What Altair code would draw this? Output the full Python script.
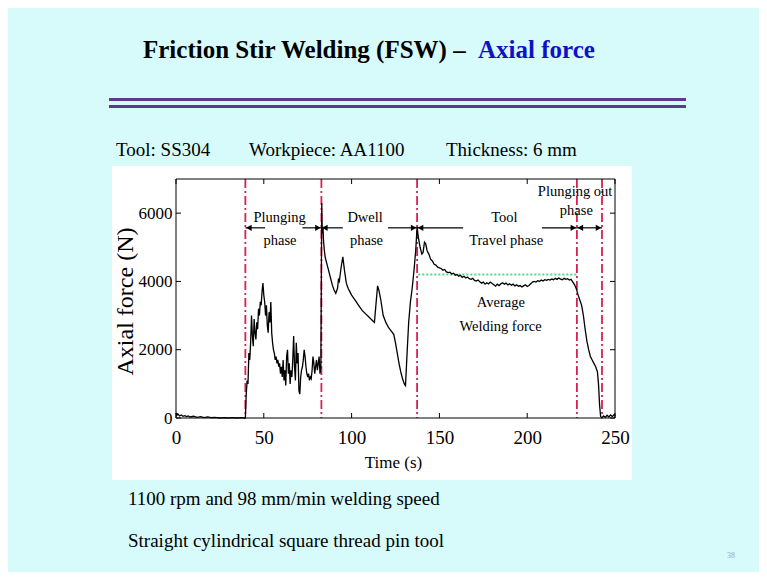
import altair as alt
import pandas as pd

# ---------------- data ----------------
pre_plunge = [(0, 150), (0.5, 80), (1, 120), (2, 60), (3, 90), (4, 50), (5, 70), (6, 40),
              (7, 60), (8, 30), (10, 50), (12, 20), (14, 40), (16, 10), (18, 30), (20, 10),
              (22, 20), (25, 0), (28, 10), (30, 0), (32, 10), (35, 0), (37, 10), (39, 0)]

plunging = [(39.5, 0), (40, 700), (40.5, 1100), (41, 1000), (41.5, 1900), (42, 1700), (42.5, 2200),
            (43, 3000), (43.5, 2400), (44, 2100), (44.5, 2900), (45, 2500), (45.5, 2300), (46, 2800),
            (46.5, 2600), (47, 3200), (47.5, 3000), (48, 3400), (48.5, 3300), (49, 3700), (49.5, 3950),
            (50, 3600), (50.5, 3400), (51, 3000), (51.5, 3300), (52, 2700), (52.5, 2500), (53, 3100),
            (53.5, 2800), (54, 3400), (54.5, 2500), (55, 2200), (55.5, 2000), (56, 1900), (56.5, 1700),
            (57, 1800), (57.5, 1600), (58, 1700), (58.5, 1500), (59, 1600), (59.5, 1300), (60, 1500),
            (60.5, 1200), (61, 1700), (61.5, 1100), (62, 1400), (62.5, 950), (63, 1800), (63.5, 2000),
            (64, 1300), (64.5, 1600), (65, 1000), (65.5, 1400), (66, 1200), (66.5, 1700), (67, 2400),
            (67.5, 1500), (68, 1100), (68.5, 2200), (69, 1600), (69.5, 1900), (70, 800), (70.5, 700),
            (71, 1200), (71.5, 1400), (72, 1500), (72.5, 1700), (73, 2000), (73.5, 1800), (74, 1500),
            (74.5, 1300), (75, 1200), (75.5, 1300), (76, 1100), (76.5, 1200), (77, 1150), (77.5, 1400),
            (78, 1800), (78.5, 1600), (79, 1300), (79.5, 1500), (80, 1700), (80.5, 1400), (81, 1600),
            (81.5, 1800), (82, 1300), (82.5, 1500)]

dwell = [(83, 6300), (83.3, 5400), (83.7, 5600), (84, 5200), (84.5, 4900), (85, 4700), (86, 4500),
         (87, 4300), (88, 4100), (89, 3900), (90, 3750), (91, 3650), (92, 3800), (92.5, 4050),
         (93, 4000), (94, 4400), (95, 4720), (96, 4300), (97, 3950), (98, 3800), (99, 3700),
         (100, 3600), (102, 3450), (104, 3300), (106, 3150), (108, 3050), (110, 2950), (112, 2850),
         (113, 2800), (114, 3400), (114.8, 3870), (115.5, 3750), (116.5, 3500), (118, 3000),
         (119.5, 2800), (121, 2650), (122.5, 2550), (124, 2450), (125, 2200), (126, 1900),
         (127, 1600), (128, 1350), (129, 1150), (130, 1000), (130.7, 950), (131.5, 1800),
         (132.5, 2800), (133.5, 3400), (134.5, 3800), (135.5, 4300), (136.5, 4900), (137.3, 5600)]

travel = [(138, 5300), (139, 5000), (140, 4800), (140.7, 4850), (141.5, 5150), (142.2, 5100),
          (143, 4900), (144, 4800), (145, 4650), (146, 4600), (147, 4500), (148, 4480), (149, 4420),
          (150, 4400), (151, 4380), (152, 4330), (153, 4350), (154, 4280), (155, 4260), (156, 4270),
          (157, 4220), (158, 4240), (159, 4180), (160, 4200), (161, 4150), (162, 4180), (163, 4120),
          (164, 4150), (165, 4100), (166, 4130), (167, 4080), (168, 4060), (169, 4090), (170, 4030),
          (171, 4010), (172, 4040), (173, 3990), (174, 3950), (175, 3980), (176, 3920), (177, 3960),
          (178, 3930), (179, 3980), (180, 3940), (181, 3900), (182, 3860), (183, 3920), (184, 3880),
          (185, 3930), (186, 3960), (187, 3920), (188, 3950), (189, 3900), (190, 3930), (191, 3890),
          (192, 3920), (193, 3870), (194, 3900), (195, 3860), (196, 3880), (197, 3840), (198, 3870),
          (199, 3900), (200, 3850), (201, 3880), (202, 3930), (203, 3980), (204, 4000), (205, 3980),
          (206, 4020), (207, 4000), (208, 4040), (209, 4010), (210, 4050), (211, 4030), (212, 4060),
          (213, 4040), (214, 4070), (215, 4050), (216, 4090), (217, 4060), (218, 4100), (219, 4070),
          (220, 4050), (221, 4090), (222, 4060), (223, 4080), (224, 4040), (225, 4060), (226, 3980),
          (227, 3900)]

plunge_out = [(228, 3780), (229, 3600), (230, 3450), (231, 3300), (232, 3000), (233, 2600),
              (234, 2250), (235, 2000), (236, 1800), (237, 1700), (238, 1600), (239, 1500),
              (240, 1350), (240.6, 1000), (241.2, 400), (241.8, 50), (242.5, 0), (243.5, 60),
              (244.5, 20), (245.5, 80), (246.5, 30), (247.5, 90), (248.5, 40), (249.5, 100), (250, 60)]

phase_lines = [39.5, 82.8, 137.3, 228.3, 242.6]
avg_force = [(138, 228.3, 4200)]
arrow_segments = [(39.5, 50.7, 5570), (72, 82.8, 5570), (82.8, 95, 5570), (120.7, 137.3, 5570),
                  (137.3, 163.5, 5570), (208.4, 228.3, 5570), (228.3, 242.6, 5570)]
left_heads = [(39.5, 5570), (82.8, 5570), (137.3, 5570), (228.3, 5570)]
right_heads = [(82.8, 5570), (137.3, 5570), (228.3, 5570), (242.6, 5570)]

phase_labels = ["Plunging", "phase", "Dwell", "phase", "Tool", "Travel phase",
                "Plunging out", "phase", "Average", "Welding force"]
label_t = [59, 59.2, 107.7, 108.5, 187, 188, 227.3, 228, 185, 184.8]
label_f = [5870, 5170, 5870, 5170, 5870, 5170, 6620, 6070, 3370, 2670]

x_ticks = [0, 50, 100, 150, 200, 250]
y_ticks = [0, 2000, 4000, 6000]

title_main = "Friction Stir Welding (FSW) –"
title_blue = "Axial force"
info_line = ["Tool: SS304", "Workpiece: AA1100", "Thickness: 6 mm"]
notes = ["1100 rpm and 98 mm/min welding speed", "Straight cylindrical square thread pin tool"]
page_no = "38"

# ---------------- chart ----------------
W, H = 439, 239
FONT = "Liberation Serif"

curve_df = pd.DataFrame(pre_plunge + plunging + dwell + travel + plunge_out, columns=["t", "f"])
one = pd.DataFrame({"k": [0]})

xs = alt.Scale(domain=[0, 250], nice=False, zero=False)
ys = alt.Scale(domain=[0, 7000], nice=False)

backdrop = alt.Chart(one).mark_rect(fill="white").encode(
    x=alt.value(-64), x2=alt.value(456), y=alt.value(-13), y2=alt.value(301))

red_lines = alt.Chart(pd.DataFrame({"t": phase_lines})).mark_rule(
    color="#d9204f", strokeDash=[9, 3, 2, 3], strokeWidth=1.8).encode(
    x=alt.X("t:Q", scale=xs), y=alt.value(0), y2=alt.value(H))

avg_line = alt.Chart(pd.DataFrame(avg_force, columns=["t", "t2", "f"])).mark_rule(
    color="#4fd98a", strokeDash=[2, 2], strokeWidth=2).encode(
    x=alt.X("t:Q", scale=xs), x2="t2:Q", y=alt.Y("f:Q", scale=ys))

curve = alt.Chart(curve_df).mark_line(color="black", strokeWidth=1.3).encode(
    x=alt.X("t:Q", scale=xs, axis=alt.Axis(
        values=x_ticks, title="Time (s)", titleFontSize=17, titleX=217, titleY=44,
        titleBaseline="middle", labelPadding=10, labelFontSize=19, labelFlush=False,
        labelOverlap=False, zindex=2)),
    y=alt.Y("f:Q", scale=ys, axis=alt.Axis(
        values=y_ticks, format="d", title="Axial force (N)", titleFontSize=24, titleX=-51,
        titleY=122, titleBaseline="middle", labelPadding=4, labelFontSize=17,
        labelOverlap=False, zindex=2)),
)

arrows = alt.Chart(pd.DataFrame(arrow_segments, columns=["t", "t2", "f"])).mark_rule(
    color="black", strokeWidth=1.2).encode(x=alt.X("t:Q", scale=xs), x2="t2:Q", y=alt.Y("f:Q", scale=ys))
heads_l = alt.Chart(pd.DataFrame(left_heads, columns=["t", "f"])).mark_point(
    shape="triangle-left", filled=True, color="black", size=40, opacity=1, xOffset=3.5).encode(
    x=alt.X("t:Q", scale=xs), y=alt.Y("f:Q", scale=ys))
heads_r = alt.Chart(pd.DataFrame(right_heads, columns=["t", "f"])).mark_point(
    shape="triangle-right", filled=True, color="black", size=40, opacity=1, xOffset=-3.5).encode(
    x=alt.X("t:Q", scale=xs), y=alt.Y("f:Q", scale=ys))

labels = alt.Chart(pd.DataFrame({"t": label_t, "f": label_f, "s": phase_labels})).mark_text(
    font=FONT, fontSize=14.5, color="black", align="center", baseline="middle").encode(
    x=alt.X("t:Q", scale=xs), y=alt.Y("f:Q", scale=ys), text="s:N")

frame = alt.Chart(one).mark_rect(fillOpacity=0, stroke="black", strokeWidth=1).encode(
    x=alt.value(0), x2=alt.value(W), y=alt.value(0), y2=alt.value(H))

tick_b = alt.Chart(pd.DataFrame({"t": x_ticks})).mark_rule(color="black").encode(
    x=alt.X("t:Q", scale=xs), y=alt.value(H), y2=alt.value(H - 5))
tick_t = alt.Chart(pd.DataFrame({"t": x_ticks})).mark_rule(color="black").encode(
    x=alt.X("t:Q", scale=xs), y=alt.value(0), y2=alt.value(5))
tick_l = alt.Chart(pd.DataFrame({"f": y_ticks})).mark_rule(color="black").encode(
    y=alt.Y("f:Q", scale=ys), x=alt.value(0), x2=alt.value(5))
tick_r = alt.Chart(pd.DataFrame({"f": y_ticks})).mark_rule(color="black").encode(
    y=alt.Y("f:Q", scale=ys), x=alt.value(W - 5), x2=alt.value(W))

# slide decorations
def slide_text(txt, x, y, size, color="black", weight="normal", align="left"):
    return alt.Chart(pd.DataFrame({"s": [txt]})).mark_text(
        x=x, y=y, align=align, baseline="middle", font=FONT, fontSize=size,
        fontWeight=weight, color=color).encode(text="s:N")

bar1 = alt.Chart(one).mark_rule(color="#5a3c8c", strokeWidth=3).encode(
    x=alt.value(-67), x2=alt.value(510), y=alt.value(-79.5))
bar2 = alt.Chart(one).mark_rule(color="#5a3c8c", strokeWidth=3).encode(
    x=alt.value(-67), x2=alt.value(510), y=alt.value(-72.5))

texts = [
    slide_text(title_main, -33, -129, 25, weight="bold"),
    slide_text(title_blue, 302, -129, 25, color="#1010c8", weight="bold"),
    slide_text(info_line[0], -60, -29, 19),
    slide_text(info_line[1], 73, -29, 19),
    slide_text(info_line[2], 270, -29, 19),
    slide_text(notes[0], -48, 320, 19),
    slide_text(notes[1], -48, 362, 19),
    slide_text(page_no, 555, 377, 8, color="#9aa", align="center"),
]

chart = alt.layer(
    backdrop, red_lines, avg_line, curve, arrows, heads_l, heads_r, labels,
    frame, tick_b, tick_t, tick_l, tick_r, bar1, bar2, *texts
).properties(
    width=W, height=H,
    autosize=alt.AutoSizeParams(type="none"),
    padding={"left": 168, "top": 171, "right": 144, "bottom": 154},
    background="#d7fbfb",
).configure_axis(
    labelFont=FONT, titleFont=FONT, labelColor="black", titleColor="black",
    labelFontSize=18, titleFontWeight="normal", grid=False, domain=False,
    ticks=False, tickSize=0, zindex=2,
).configure_view(stroke="transparent")

chart.save("out.html", embed_options={"renderer": "svg", "actions": False})
